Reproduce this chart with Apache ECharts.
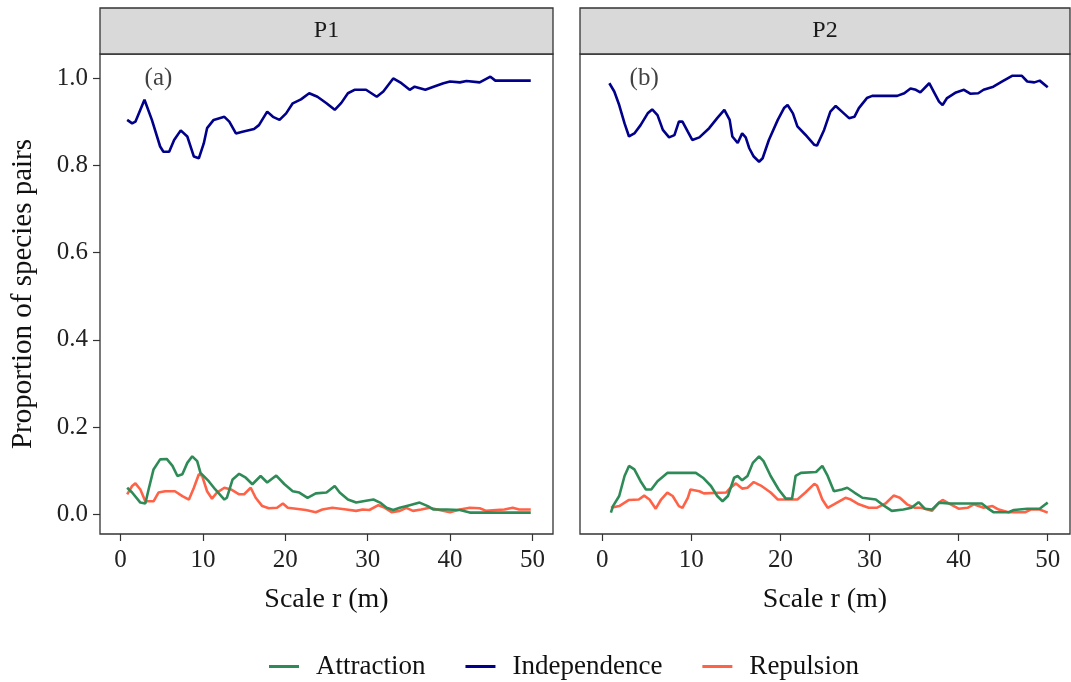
<!DOCTYPE html>
<html><head><meta charset="utf-8">
<script src="https://cdn.jsdelivr.net/npm/echarts@6/dist/echarts.min.js"></script>
<style>html,body{margin:0;padding:0;background:#fff}#c{width:1071px;height:682px}</style>
</head><body><div id="c"></div>
<script>
// ---------- data ----------
const panels = ['P1', 'P2'];
const panelTags = ['(a)', '(b)'];
const seriesNames = ['Attraction', 'Independence', 'Repulsion'];
const xTicks = [0, 10, 20, 30, 40, 50];
const yTicks = [0, 0.2, 0.4, 0.6, 0.8, 1.0];
const tagPos = [[4.6, 1.0], [4.7, 1.0]];

// P1 : [scale r, proportion]
const p1Independence = [[0.8,0.904],[1.4,0.896],[1.8,0.90],[2.9,0.950],[3.8,0.904],[4.8,0.843],[5.2,0.831],[5.9,0.831],[6.5,0.858],[7.3,0.880],[8.1,0.866],[8.9,0.82],[9.5,0.816],[10.1,0.85],[10.5,0.885],[11.3,0.904],[12.6,0.911],[13.2,0.90],[14.0,0.873],[14.8,0.877],[16.2,0.883],[16.8,0.892],[17.8,0.923],[18.5,0.911],[19.3,0.904],[20.1,0.919],[20.9,0.942],[21.9,0.951],[22.9,0.965],[23.9,0.957],[25.0,0.942],[26.0,0.927],[26.8,0.943],[27.6,0.965],[28.4,0.973],[29.8,0.973],[31.1,0.957],[31.9,0.969],[33.1,0.999],[34.1,0.988],[35.1,0.973],[35.7,0.980],[37.0,0.973],[38.0,0.980],[39.2,0.988],[40.0,0.992],[41.2,0.99],[42.0,0.993],[43.6,0.99],[44.9,1.003],[45.5,0.994],[49.8,0.994]];
const p1Attraction = [[0.8,0.061],[1.4,0.050],[2.4,0.027],[3.0,0.025],[3.4,0.057],[4.0,0.103],[4.8,0.126],[5.6,0.127],[6.3,0.111],[6.9,0.088],[7.5,0.092],[8.1,0.118],[8.7,0.133],[9.3,0.122],[9.7,0.095],[10.7,0.076],[11.5,0.057],[12.6,0.034],[12.9,0.038],[13.6,0.080],[14.4,0.093],[15.2,0.084],[16.0,0.069],[17.0,0.088],[17.8,0.073],[18.9,0.089],[19.9,0.069],[20.9,0.053],[21.7,0.050],[22.7,0.038],[23.7,0.048],[25.0,0.050],[26.0,0.065],[26.6,0.050],[27.6,0.034],[28.6,0.027],[29.8,0.031],[30.7,0.034],[31.5,0.027],[32.3,0.015],[33.1,0.010],[33.9,0.015],[35.1,0.021],[36.3,0.027],[37.3,0.019],[38.0,0.011],[39.6,0.011],[41.2,0.010],[42.4,0.004],[49.8,0.004]];
const p1Repulsion = [[0.8,0.046],[1.4,0.065],[1.8,0.071],[2.4,0.057],[3.0,0.030],[4.0,0.030],[4.6,0.050],[5.4,0.053],[6.6,0.053],[7.5,0.042],[8.3,0.034],[8.9,0.061],[9.5,0.092],[9.9,0.088],[10.5,0.053],[11.1,0.036],[11.7,0.050],[12.6,0.061],[13.4,0.057],[14.4,0.046],[15.0,0.046],[15.8,0.061],[16.4,0.038],[17.2,0.019],[18.0,0.014],[19.0,0.015],[19.7,0.025],[20.3,0.015],[21.3,0.013],[22.5,0.010],[23.7,0.005],[24.5,0.011],[25.7,0.015],[27.4,0.011],[28.6,0.008],[29.4,0.011],[30.2,0.010],[31.3,0.021],[32.1,0.015],[32.9,0.005],[33.9,0.008],[34.7,0.015],[35.5,0.008],[36.5,0.011],[37.5,0.015],[38.7,0.010],[40.0,0.005],[41.2,0.011],[42.4,0.015],[43.6,0.014],[44.4,0.008],[45.6,0.010],[46.6,0.011],[47.6,0.015],[48.4,0.011],[49.8,0.011]];

// P2 : [scale r, proportion]
const p2Independence = [[0.8,0.988],[1.35,0.969],[1.9,0.938],[2.5,0.896],[3.0,0.866],[3.6,0.873],[4.3,0.892],[5.1,0.919],[5.6,0.928],[6.2,0.915],[6.8,0.881],[7.5,0.864],[8.1,0.869],[8.6,0.900],[9.0,0.900],[9.6,0.877],[10.1,0.858],[10.9,0.864],[12.0,0.885],[12.9,0.908],[13.7,0.927],[14.3,0.904],[14.6,0.866],[15.2,0.851],[15.7,0.873],[16.1,0.864],[16.5,0.839],[17.0,0.820],[17.6,0.808],[18.0,0.816],[18.7,0.858],[19.7,0.904],[20.4,0.931],[20.8,0.938],[21.4,0.919],[21.9,0.889],[22.8,0.870],[23.8,0.847],[24.1,0.845],[24.9,0.881],[25.6,0.923],[26.2,0.936],[26.9,0.923],[27.7,0.908],[28.3,0.911],[28.8,0.931],[29.7,0.954],[30.3,0.959],[33.1,0.959],[33.9,0.965],[34.6,0.976],[35.2,0.973],[35.7,0.967],[36.7,0.988],[37.2,0.969],[37.8,0.946],[38.2,0.938],[38.7,0.954],[39.7,0.967],[40.6,0.973],[41.3,0.964],[42.2,0.965],[42.8,0.973],[43.9,0.980],[44.9,0.992],[46.0,1.005],[47.1,1.005],[47.7,0.992],[48.5,0.990],[49.1,0.994],[50.0,0.979]];
const p2Attraction = [[0.97,0.004],[1.2,0.019],[1.9,0.042],[2.5,0.088],[3.0,0.111],[3.6,0.103],[4.3,0.076],[4.9,0.057],[5.5,0.057],[6.2,0.076],[7.3,0.095],[10.5,0.095],[11.3,0.084],[12.2,0.065],[12.9,0.042],[13.5,0.030],[14.1,0.042],[14.8,0.084],[15.2,0.088],[15.7,0.078],[16.3,0.088],[16.9,0.118],[17.6,0.133],[18.1,0.122],[18.9,0.088],[19.8,0.057],[20.6,0.036],[21.3,0.036],[21.7,0.088],[22.3,0.095],[24.0,0.097],[24.7,0.111],[25.3,0.088],[26.0,0.053],[26.9,0.057],[27.5,0.061],[28.3,0.050],[29.2,0.038],[30.7,0.034],[31.4,0.023],[32.5,0.008],[33.8,0.011],[34.7,0.015],[35.5,0.028],[36.2,0.013],[37.0,0.011],[37.8,0.027],[38.9,0.025],[42.6,0.025],[43.2,0.015],[43.9,0.005],[45.6,0.005],[46.2,0.010],[47.7,0.013],[49.1,0.013],[49.6,0.021],[50.0,0.027]];
const p2Repulsion = [[0.97,0.015],[1.9,0.019],[3.0,0.033],[4.1,0.034],[4.7,0.043],[5.3,0.034],[6.0,0.013],[6.6,0.034],[7.3,0.050],[7.9,0.042],[8.6,0.019],[9.0,0.015],[9.6,0.038],[9.9,0.057],[10.9,0.053],[11.4,0.048],[13.9,0.050],[14.4,0.061],[15.0,0.071],[15.7,0.059],[16.3,0.061],[17.0,0.074],[17.8,0.066],[18.9,0.050],[19.7,0.034],[21.9,0.034],[22.8,0.050],[23.8,0.070],[24.1,0.066],[24.7,0.034],[25.3,0.015],[26.0,0.023],[27.3,0.038],[27.9,0.034],[28.8,0.023],[29.9,0.015],[30.8,0.015],[31.8,0.025],[32.7,0.043],[33.4,0.038],[34.2,0.023],[35.1,0.015],[35.8,0.015],[37.0,0.008],[37.8,0.027],[38.2,0.033],[39.1,0.023],[40.0,0.013],[41.0,0.015],[41.7,0.023],[42.8,0.015],[43.8,0.019],[44.5,0.011],[45.6,0.005],[47.5,0.005],[48.1,0.011],[49.1,0.011],[50.0,0.004]];

const panelData = [
  [p1Attraction, p1Independence, p1Repulsion],
  [p2Attraction, p2Independence, p2Repulsion]
];

// ---------- styling ----------
const FONT = "'Liberation Serif', 'Times New Roman', serif";
const colors = { Attraction: '#2e8b57', Independence: '#00008b', Repulsion: '#ff6347' };
const gridBoxes = [
  { left: 100, top: 54, width: 453, height: 480 },
  { left: 580, top: 54, width: 490, height: 480 }
];
const stripTop = 8;

const chart = echarts.init(document.getElementById('c'), null, { renderer: 'canvas' });

const grids = gridBoxes.map(b => ({
  left: b.left, top: b.top, width: b.width, height: b.height,
  show: true, borderColor: '#333', borderWidth: 1.3, backgroundColor: '#fff'
}));

const xAxes = gridBoxes.map((b, i) => ({
  type: 'value', gridIndex: i, min: -2.5, max: 52.5, position: 'bottom',
  name: 'Scale r (m)', nameLocation: 'middle', nameGap: 52,
  nameTextStyle: { fontFamily: FONT, fontSize: 28, color: '#111' },
  axisLine: { show: false, onZero: false },
  axisTick: { show: true, length: 7, lineStyle: { color: '#333', width: 1.2 }, customValues: xTicks },
  axisLabel: { show: true, margin: 14, fontFamily: FONT, fontSize: 25, color: '#222', customValues: xTicks },
  splitLine: { show: false }
}));

const yAxes = gridBoxes.map((b, i) => ({
  type: 'value', gridIndex: i, min: -0.045, max: 1.055, position: 'left',
  name: i === 0 ? 'Proportion of species pairs' : '',
  nameLocation: 'middle', nameGap: 62,
  nameTextStyle: { fontFamily: FONT, fontSize: 29, color: '#111' },
  axisLine: { show: false, onZero: false },
  axisTick: { show: i === 0, length: 7, lineStyle: { color: '#333', width: 1.2 }, customValues: yTicks },
  axisLabel: { show: i === 0, margin: 12, fontFamily: FONT, fontSize: 25, color: '#222',
    customValues: yTicks, formatter: v => v.toFixed(1) },
  splitLine: { show: false }
}));

const series = [];
panelData.forEach((arrs, p) => {
  arrs.forEach((d, k) => {
    const nm = seriesNames[k];
    series.push({
      name: nm, type: 'line', xAxisIndex: p, yAxisIndex: p,
      data: d, symbol: 'none', showSymbol: false, smooth: false,
      lineStyle: { color: colors[nm], width: 2.6 },
      itemStyle: { color: colors[nm] },
      z: k === 0 ? 3 : 2
    });
  });
  series.push({
    name: 'tag' + p, type: 'scatter', xAxisIndex: p, yAxisIndex: p,
    data: [tagPos[p]], symbolSize: 1, itemStyle: { color: 'rgba(0,0,0,0)' },
    label: { show: true, position: 'inside', formatter: panelTags[p],
      fontFamily: FONT, fontSize: 25, color: '#111' },
    silent: true, z: 5
  });
});

const graphics = [];
gridBoxes.forEach((b, i) => {
  graphics.push({
    type: 'rect', shape: { x: b.left, y: stripTop, width: b.width, height: b.top - stripTop },
    style: { fill: '#d9d9d9', stroke: '#333', lineWidth: 1.3 }, z: 10
  });
  graphics.push({
    type: 'text', x: b.left + b.width / 2, y: (stripTop + b.top) / 2,
    style: { text: panels[i], fontFamily: FONT, fontSize: 24, fill: '#1a1a1a',
      align: 'center', verticalAlign: 'middle' }, z: 11
  });
});

chart.setOption({
  animation: false,
  backgroundColor: '#fff',
  grid: grids, xAxis: xAxes, yAxis: yAxes, series: series,
  legend: {
    data: seriesNames, left: 264, top: 648, orient: 'horizontal',
    icon: 'rect', itemWidth: 30, itemHeight: 3, itemGap: 40,
    textStyle: { fontFamily: FONT, fontSize: 27, color: '#111', padding: [0, 0, 0, 12] }
  },
  graphic: graphics
});
</script></body></html>
